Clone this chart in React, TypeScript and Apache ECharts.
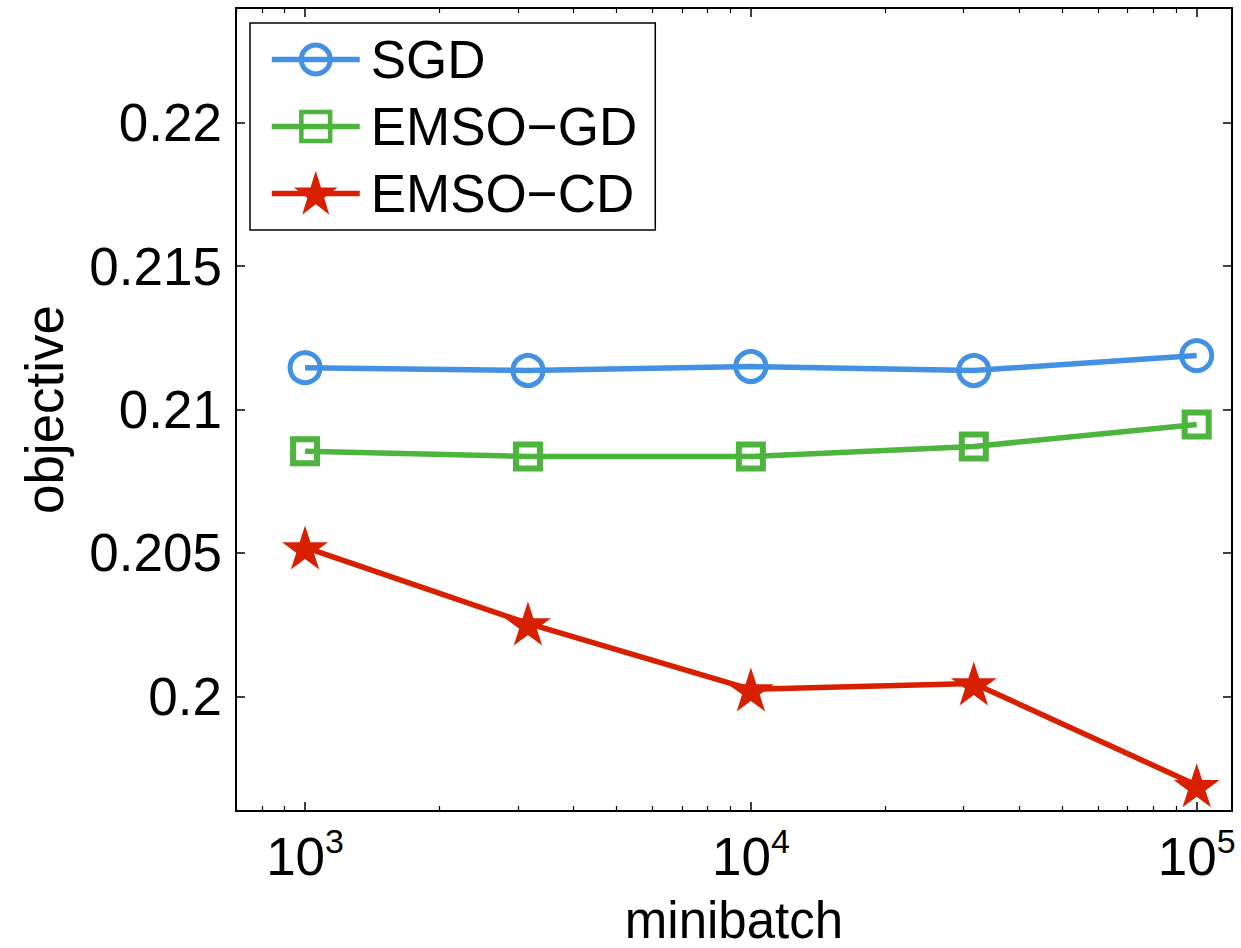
import React, { useEffect, useRef } from "react";
import * as echarts from "echarts";

const minibatch = [1000, 3162, 10000, 31623, 100000];
const sgd = [0.21146, 0.21136, 0.2115, 0.21136, 0.21188];
const emsoGD = [0.20854, 0.20836, 0.20836, 0.20871, 0.20948];
const emsoCD = [0.20519, 0.20254, 0.20024, 0.20045, 0.1969];
const yTicks = [0.2, 0.205, 0.21, 0.215, 0.22];
const xMajorTicks = [1000, 10000, 100000];
const seriesNames = ["SGD", "EMSO\u2212GD", "EMSO\u2212CD"];

const BLUE = "#4391e3";
const GREEN = "#4db43d";
const RED = "#d82000";
const FONT = '"Liberation Sans", Arial, Helvetica, sans-serif';

function starPath(): string {
  const R = 50;
  const r = R * 0.382;
  const pts: string[] = [];
  for (let i = 0; i < 10; i++) {
    const rad = i % 2 === 0 ? R : r;
    const a = -Math.PI / 2 + (i * Math.PI) / 5;
    pts.push(`${(rad * Math.cos(a)).toFixed(2)} ${(rad * Math.sin(a)).toFixed(2)}`);
  }
  return "path://M" + pts.join(" L") + " Z";
}

function minorTicks(): number[] {
  const out: number[] = [];
  for (let d = 100; d <= 100000; d *= 10) {
    for (let k = 2; k <= 9; k++) {
      const v = k * d;
      if (v >= 700 && v <= 120000) out.push(v);
    }
  }
  return out;
}

export default function App() {
  const ref = useRef<HTMLDivElement>(null);
  useEffect(() => {
    document.body.style.margin = "0";
    const chart = echarts.init(ref.current!, null, { renderer: "svg" });
    const star = starPath();
    const minors = minorTicks();
    const pair = (ys: number[]) => minibatch.map((x, i) => [x, ys[i]]);
    const xBase = {
      type: "log" as const,
      logBase: 10,
      min: 700,
      max: 120000,
      splitLine: { show: false },
      minorSplitLine: { show: false },
    };
    chart.setOption({
      animation: false,
      backgroundColor: "#fff",
      grid: { left: 236, right: 9, top: 8, bottom: 137, outerBoundsMode: "none", containLabel: false },
      legend: {
        orient: "vertical",
        left: 250,
        top: 23,
        padding: [10, 18, 10, 19],
        itemWidth: 88,
        itemHeight: 36,
        itemGap: 14,
        borderColor: "#000",
        borderWidth: 1.5,
        borderRadius: 0,
        backgroundColor: "#fff",
        lineStyle: { width: 5.5 },
        textStyle: { fontSize: 53, fontFamily: FONT, color: "#000", padding: [0, 0, 0, 6] },
        data: [
          { name: seriesNames[0], itemStyle: { borderWidth: 5 } },
          { name: seriesNames[1], itemStyle: { borderWidth: 4.5 } },
          {
            name: seriesNames[2],
            itemStyle: { borderWidth: 5, borderColor: RED, borderJoin: "miter", borderMiterLimit: 10 },
          },
        ],
      },
      xAxis: [
        {
          ...xBase,
          position: "bottom",
          name: "minibatch",
          nameLocation: "middle",
          nameGap: 109,
          nameMoveOverlap: false,
          nameTextStyle: { fontSize: 51, lineHeight: 50, fontFamily: FONT, color: "#000", verticalAlign: "middle" },
          axisLine: { show: true, lineStyle: { color: "#000", width: 2 } },
          axisTick: { show: true, inside: true, length: 9, customValues: xMajorTicks, lineStyle: { color: "#000", width: 1.5 } },
          minorTick: { show: false },
          axisLabel: {
            show: true,
            customValues: xMajorTicks,
            margin: 13,
            formatter: (v: number) => `{b|10}{s|${Math.round(Math.log10(v))}}`,
            rich: {
              b: { fontSize: 53, lineHeight: 42, fontFamily: FONT, color: "#000", padding: [23, 0, 0, 0] },
              s: { fontSize: 34, lineHeight: 34, fontFamily: FONT, color: "#000", verticalAlign: "top" },
            },
          },
        },
        {
          ...xBase,
          position: "bottom",
          axisLine: { show: false },
          axisTick: { show: true, inside: true, length: 5, customValues: minors, lineStyle: { color: "#000", width: 1.2 } },
          axisLabel: { show: false },
        },
        {
          ...xBase,
          position: "top",
          axisLine: { show: true, lineStyle: { color: "#000", width: 2 } },
          axisTick: { show: true, inside: true, length: 9, customValues: xMajorTicks, lineStyle: { color: "#000", width: 1.5 } },
          axisLabel: { show: false },
        },
        {
          ...xBase,
          position: "top",
          axisLine: { show: false },
          axisTick: { show: true, inside: true, length: 5, customValues: minors, lineStyle: { color: "#000", width: 1.2 } },
          axisLabel: { show: false },
        },
      ],
      yAxis: [
        {
          type: "value",
          min: 0.196,
          max: 0.224,
          position: "left",
          name: "objective",
          nameLocation: "middle",
          nameGap: 165,
          nameRotate: 90,
          nameMoveOverlap: false,
          nameTextStyle: { fontSize: 53, fontFamily: FONT, color: "#000" },
          splitLine: { show: false },
          axisLine: { show: true, lineStyle: { color: "#000", width: 2 } },
          axisTick: { show: true, inside: true, length: 9, customValues: yTicks, lineStyle: { color: "#000", width: 1.5 } },
          axisLabel: {
            show: true,
            customValues: yTicks,
            margin: 14,
            fontSize: 53,
            fontFamily: FONT,
            color: "#000",
            formatter: (v: number) => String(Number(v.toFixed(4))),
          },
        },
        {
          type: "value",
          min: 0.196,
          max: 0.224,
          position: "right",
          splitLine: { show: false },
          axisLine: { show: true, lineStyle: { color: "#000", width: 2 } },
          axisTick: { show: true, inside: true, length: 9, customValues: yTicks, lineStyle: { color: "#000", width: 1.5 } },
          axisLabel: { show: false },
        },
      ],
      series: [
        {
          name: seriesNames[0],
          type: "line",
          data: pair(sgd),
          symbol: "circle",
          symbolSize: 30,
          lineStyle: { color: BLUE, width: 5.5 },
          itemStyle: { color: "none", borderColor: BLUE, borderWidth: 5 },
          z: 3,
        },
        {
          name: seriesNames[1],
          type: "line",
          data: pair(emsoGD),
          symbol: "rect",
          symbolSize: 24,
          lineStyle: { color: GREEN, width: 5.5 },
          itemStyle: { color: "none", borderColor: GREEN, borderWidth: 6 },
          z: 3,
        },
        {
          name: seriesNames[2],
          type: "line",
          data: pair(emsoCD),
          symbol: star,
          symbolSize: [46, 44],
          lineStyle: { color: RED, width: 5.5 },
          itemStyle: { color: RED, borderWidth: 0 },
          z: 3,
        },
      ],
    });
    return () => chart.dispose();
  }, []);
  return <div ref={ref} style={{ width: 1241, height: 948 }} />;
}
